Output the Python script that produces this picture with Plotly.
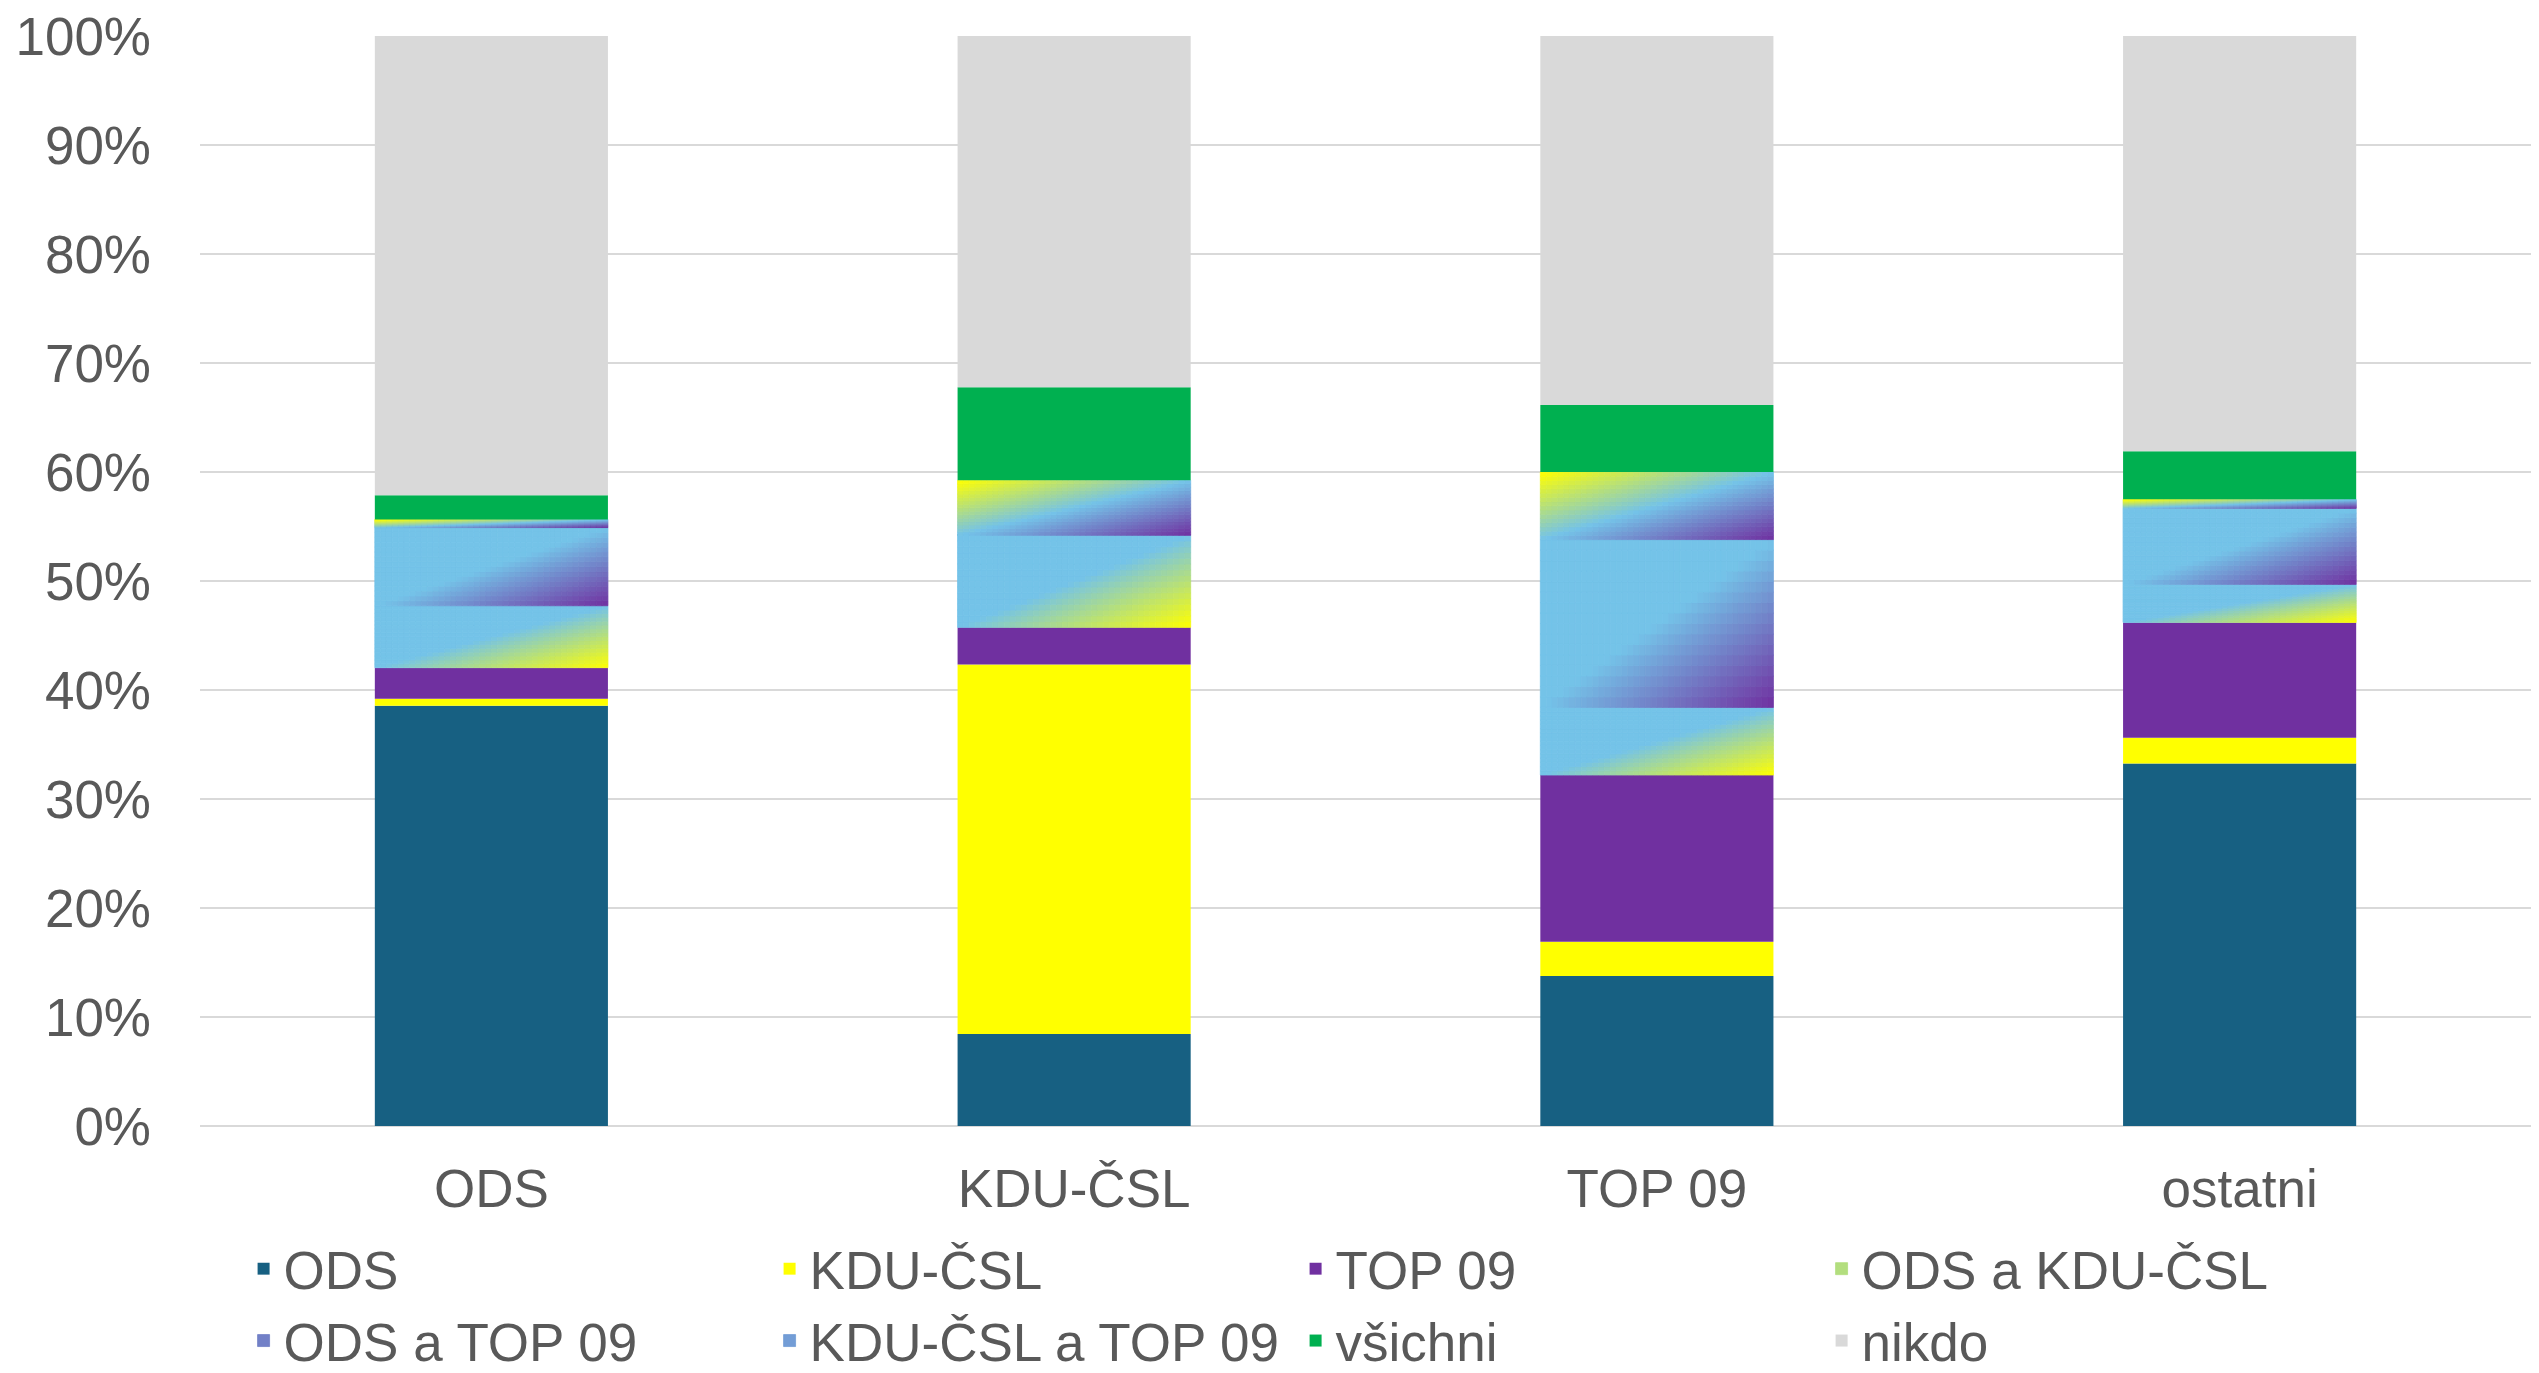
import numpy as np
import plotly.graph_objects as go

# ---------------- data (percent of respondents) ----------------
categories = ["ODS", "KDU-ČSL", "TOP 09", "ostatni"]
ods      = [38.56, 8.44, 13.77, 33.25]
kdu      = [0.64, 33.91, 3.13, 2.38]
top09    = [2.85, 3.40, 15.30, 10.57]
ods_kdu  = [5.68, 8.44, 6.20, 3.49]
ods_top  = [7.17, 0.00, 15.40, 6.98]
kdu_top  = [0.75, 5.05, 6.20, 0.82]
vsichni  = [2.21, 8.53, 6.15, 4.41]
nikdo    = [42.14, 32.23, 33.85, 38.10]
series_names = ["ODS", "KDU-ČSL", "TOP 09", "ODS a KDU-ČSL",
                "ODS a TOP 09", "KDU-ČSL a TOP 09", "všichni", "nikdo"]
y_tick_values = [0, 10, 20, 30, 40, 50, 60, 70, 80, 90, 100]
y_tick_labels = ["0%", "10%", "20%", "30%", "40%", "50%", "60%", "70%", "80%", "90%", "100%"]

# ---------------- styles ----------------
C_ODS = (23, 96, 130)
C_YEL = (255, 255, 0)
C_PUR = (112, 48, 160)
C_LB = (116, 195, 232)
C_GRN = (0, 176, 80)
C_GRY = (217, 217, 217)
TEXT = "#595959"
FONT = "Liberation Sans, Arial, sans-serif"
FS = 53
BW = 0.4           # bar width in category units
NX, NY = 40, 16    # gradient resolution


def rgb(c):
    return "rgb(%d,%d,%d)" % tuple(int(round(v)) for v in c)


def lerp(a, b, t):
    return tuple(a[k] + (b[k] - a[k]) * t for k in range(3))


def grad2(c2):
    def f(t):
        return C_LB if t <= 0 else lerp(C_LB, c2, min(t, 1.0))
    return f


def grad3(c_top, c_bot):
    def f(t):
        if t < 0:
            return lerp(C_LB, c_top, min(-t, 1.0))
        return lerp(C_LB, c_bot, min(t, 1.0))
    return f


series_vals = [ods, kdu, top09, ods_kdu, ods_top, kdu_top, vsichni, nikdo]
series_style = [C_ODS, C_YEL, C_PUR, grad2(C_YEL), grad2(C_PUR),
                grad3(C_YEL, C_PUR), C_GRN, C_GRY]
legend_t = [None, None, None, 0.45, 0.45, 0.25, None, None]

cum = np.zeros(len(categories))
fig = go.Figure()
for name, vals, style, lt in zip(series_names, series_vals, series_style, legend_t):
    vals = np.array(vals, dtype=float)
    if callable(style):
        xs, ys, bs, offs, ws, cols, ts = [], [], [], [], [], [], []
        for ci, cat in enumerate(categories):
            h = vals[ci]
            for j in range(NY):
                v = (j + 0.5) / NY
                for i in range(NX):
                    u = (i + 0.5) / NX
                    t = u - v
                    xs.append(cat)
                    ys.append(h / NY)
                    bs.append(cum[ci] + j * h / NY)
                    offs.append(-BW / 2 + i * BW / NX)
                    ws.append(BW / NX)
                    cols.append(rgb(style(t)))
                    ts.append(t)
        # put a representative cell first so the legend swatch shows a mid tone
        k = int(np.argmin(np.abs(np.array(ts) - lt)))
        order = [k] + [m for m in range(len(xs)) if m != k]
        pick = lambda arr: [arr[m] for m in order]
        c_sorted = pick(cols)
        fig.add_trace(go.Bar(
            x=pick(xs), y=pick(ys), base=pick(bs), offset=pick(offs), width=pick(ws),
            name=name, marker=dict(color=c_sorted, line=dict(width=0.8, color=c_sorted)),
            hoverinfo="skip"))
    else:
        fig.add_trace(go.Bar(
            x=categories, y=vals, base=cum.copy(), width=BW, name=name,
            marker=dict(color=rgb(style), line=dict(width=0)),
            hovertemplate="%{x}: %{y:.1f}%<extra>" + name + "</extra>"))
    cum = cum + vals

fig.update_layout(
    width=2539, height=1373,
    barmode="overlay",
    paper_bgcolor="white", plot_bgcolor="white",
    font=dict(family=FONT, size=FS, color=TEXT),
    margin=dict(l=200, r=8, t=36, b=247, pad=0, autoexpand=False),
    showlegend=True,
    legend=dict(orientation="h", x=0.0187, xanchor="left", y=-0.0933, yanchor="top",
                entrywidth=481, entrywidthmode="pixels",
                font=dict(family=FONT, size=FS, color=TEXT),
                bgcolor="rgba(0,0,0,0)", traceorder="normal"),
    xaxis=dict(categoryorder="array", categoryarray=categories,
               showgrid=False, showline=False, zeroline=False, ticks="",
               ticklabelstandoff=27, tickfont=dict(size=FS, color=TEXT)),
    yaxis=dict(range=[0, 100], tickvals=y_tick_values, ticktext=y_tick_labels,
               showgrid=True, gridcolor="#D9D9D9", gridwidth=1.5,
               zeroline=True, zerolinecolor="#D9D9D9", zerolinewidth=1.5,
               showline=False, ticks="", ticklabelstandoff=48,
               tickfont=dict(size=FS, color=TEXT)),
)

fig.write_html("out.html", config={"displayModeBar": False},
               post_script="document.body.style.margin='0';document.body.style.overflow='hidden';")
